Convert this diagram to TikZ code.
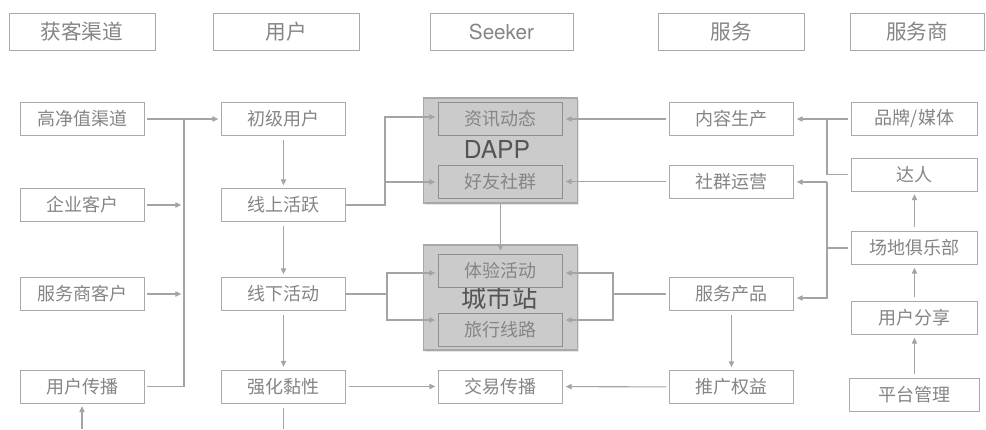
\documentclass[tikz,border=0pt]{standalone}
\usepackage{fontspec}
\setmainfont{Noto Sans CJK SC}
\newfontfamily\helv{TeX Gyre Heros}
\usetikzlibrary{arrows.meta,shadows}
\definecolor{ln}{HTML}{A4A4A4}
\definecolor{bx}{HTML}{AAAAAA}
\definecolor{tx}{HTML}{858585}
\definecolor{gfill}{HTML}{CBCBCB}
\definecolor{gdraw}{HTML}{A8A8A8}
\definecolor{ibx}{HTML}{8E8E8E}
\definecolor{bigtx}{HTML}{555555}
\begin{document}
\begin{tikzpicture}[x=0.75pt,y=-0.75pt,
  box/.style={draw=bx, line width=0.75pt, fill=white, text=tx, inner sep=0pt,
    minimum width=93pt, minimum height=24.75pt, font=\fontsize{13.5pt}{15pt}\selectfont},
  hdr/.style={box, minimum width=109.5pt, minimum height=27.75pt, font=\fontsize{15.5pt}{17pt}\selectfont},
  ibox/.style={box, fill=gfill, draw=ibx},
  grp/.style={draw=gdraw, line width=1.4pt, fill=gfill, minimum width=115.5pt, minimum height=78.75pt,
    inner sep=0pt, drop shadow={shadow xshift=0.8pt, shadow yshift=-1.2pt, opacity=0.2}},
  bigt/.style={text=bigtx, inner sep=0pt},
  conn/.style={draw=ln, line width=0.8pt},
  arr/.style={conn, -{Triangle[length=4.5pt,width=4pt]}, shorten >=2pt},
]
\useasboundingbox (0,0) rectangle (986,429);

% headers
\node[hdr] (h1) at (82,31.5) {获客渠道};
\node[hdr] (h2) at (286,31.5) {用户};
\node[hdr, minimum width=107.25pt, font=\helv\fontsize{15.5pt}{17pt}\selectfont] (h3) at (501.5,31.5) {Seeker};
\node[hdr] (h4) at (731,31.5) {服务};
\node[hdr, minimum width=100.5pt] (h5) at (917,31.5) {服务商};

% left column
\node[box] (a1) at (82,119) {高净值渠道};
\node[box] (a2) at (82,205) {企业客户};
\node[box] (a3) at (82,294) {服务商客户};
\node[box] (a4) at (82,386.5) {用户传播};

% user column
\node[box] (u1) at (283.5,119) {初级用户};
\node[box] (u2) at (283.5,205) {线上活跃};
\node[box] (u3) at (283.5,294) {线下活动};
\node[box] (u4) at (283.5,386.5) {强化黏性};

% seeker column
\node[grp] (dapp) at (500.5,150.5) {};
\node[grp] (city) at (500.5,297.5) {};
\node[bigt, font=\helv\fontsize{18.5pt}{20pt}\selectfont] (dappt) at (497,150) {DAPP};
\node[bigt, font=\fontsize{19pt}{21pt}\selectfont] (cityt) at (499.5,297.5) {城市站};
\node[ibox] (s1) at (500.5,119) {资讯动态};
\node[ibox] (s2) at (500.5,182) {好友社群};
\node[ibox] (s3) at (500.5,270.5) {体验活动};
\node[ibox] (s4) at (500.5,329.5) {旅行线路};
\node[box] (s5) at (500.5,386.5) {交易传播};

% service column
\node[box] (v1) at (731.5,119) {内容生产};
\node[box] (v2) at (731.5,181.5) {社群运营};
\node[box] (v3) at (731.5,294) {服务产品};
\node[box] (v4) at (731.5,387) {推广权益};

% provider column
\node[box, minimum width=94.5pt] (p1) at (914.5,119) {品牌/媒体};
\node[box, minimum width=94.5pt] (p2) at (914.5,174.5) {达人};
\node[box, minimum width=94.5pt] (p3) at (914.5,248) {场地俱乐部};
\node[box, minimum width=94.5pt] (p4) at (914.5,318) {用户分享};
\node[box, minimum width=97.5pt] (p5) at (914.5,394.5) {平台管理};

% left collector
\coordinate (jTop) at (184,119);
\coordinate (jBot) at (184,386.5);
\draw[arr, shorten <=2pt] (a1.east) -- (u1.west);
\draw[conn, shorten <=2pt] (a4.east) -- (jBot) -- (jTop);
\draw[arr, shorten <=2pt] (a2.east) -- (a2.east -| jTop);
\draw[arr, shorten <=2pt] (a3.east) -- (a3.east -| jTop);
\coordinate (aStart) at (82,429);
\draw[arr] (aStart) -- (a4.south);

% user column flow
\draw[arr, shorten <=3pt] (u1) -- (u2);
\draw[arr, shorten <=3pt] (u2) -- (u3);
\draw[arr, shorten <=3pt] (u3) -- (u4);
\coordinate (uEnd) at (283.5,429);
\draw[conn, shorten <=3pt] (u4.south) -- (uEnd);

% online -> DAPP
\coordinate (k1) at (385,205);
\coordinate (k1t) at (385,117);
\draw[arr] (u2.east) -- (k1) -- (k1t) -- (k1t -| s1.west);
\draw[arr] (k1 |- s2.west) -- (s2.west);

% offline -> city
\coordinate (b1t) at (387,273);
\coordinate (b1b) at (387,320);
\draw[conn] (u3.east) -- (u3.east -| b1t);
\draw[arr] (u3.east -| b1t) -- (b1t) -- (b1t -| s3.west);
\draw[arr] (u3.east -| b1b) -- (b1b) -- (b1b -| s4.west);

% DAPP -> city
\draw[arr] (dapp.south) -- (s3.north);

% service -> seeker
\draw[arr, shorten <=2pt] (v1.west) -- (v1.west -| s1.east);
\draw[arr, shorten <=2pt] (v2.west) -- (v2.west -| s2.east);
\coordinate (b2t) at (613,273);
\coordinate (b2b) at (613,320);
\draw[conn, shorten <=2pt] (v3.west) -- (v3.west -| b2t);
\draw[arr] (v3.west -| b2t) -- (b2t) -- (b2t -| s3.east);
\draw[arr] (v3.west -| b2b) -- (b2b) -- (b2b -| s4.east);
\draw[arr, shorten <=3pt] (v3) -- (v4);
\draw[arr, shorten <=2pt] (v4) -- (s5);
\draw[arr, shorten <=2pt] (u4) -- (s5);

% providers -> service
\coordinate (r1) at (827,119);
\coordinate (r2) at (827,182);
\coordinate (r3) at (827,298);
\draw[arr, shorten <=2pt] (p1.west) -- (v1.east);
\draw[conn, shorten <=2pt] (p2.west) -- (p2.west -| r1) -- (r1);
\draw[arr] (r2) -- (r2 -| v2.east);
\draw[arr] (r2) -- (r3) -- (r3 -| v3.east);
\draw[conn, shorten <=2pt] (p3.west) -- (p3.west -| r2);
\draw[arr, shorten <=3pt] (p3) -- (p2);
\draw[arr, shorten <=3pt] (p4) -- (p3);
\draw[arr, shorten <=3pt] (p5) -- (p4);
\end{tikzpicture}
\end{document}
